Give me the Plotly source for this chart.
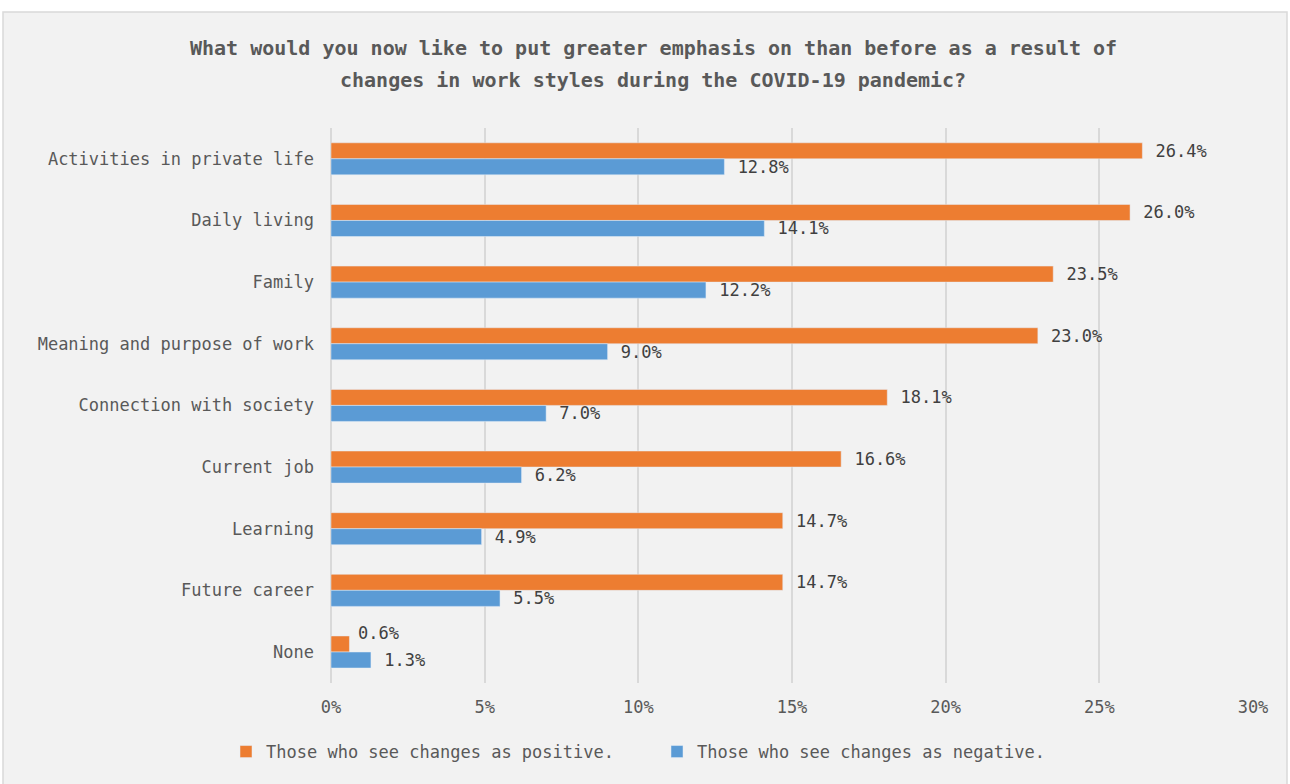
import plotly.graph_objects as go

categories = ["Activities in private life", "Daily living", "Family",
              "Meaning and purpose of work", "Connection with society",
              "Current job", "Learning", "Future career", "None"]
positive = [26.4, 26.0, 23.5, 23.0, 18.1, 16.6, 14.7, 14.7, 0.6]
negative = [12.8, 14.1, 12.2, 9.0, 7.0, 6.2, 4.9, 5.5, 1.3]
series_names = ["Those who see changes as positive.", "Those who see changes as negative."]
x_ticks = [0, 5, 10, 15, 20, 25, 30]
x_tick_labels = ["0%", "5%", "10%", "15%", "20%", "25%", "30%"]
title_lines = ["What would you now like to put greater emphasis on than before as a result of",
               "changes in work styles during the COVID-19 pandemic?"]

FONT = "DejaVu Sans Mono"
W, H = 1290, 784
L, R, T, B = 331, 37, 128, 101
pw, ph = W - L - R, H - T - B
LABEL_FONT = dict(family=FONT, size=17, color="#404040")

# the last orange label is lifted above its bar (as in the reference) to avoid clashing
pos_text = [f" {v:.1f}%" for v in positive]
pos_text[-1] = ""

fig = go.Figure()
fig.add_trace(go.Bar(
    y=categories, x=positive, orientation="h", name=series_names[0],
    marker=dict(color="#ED7D31"),
    text=pos_text, textposition="outside", constraintext="none",
    textfont=LABEL_FONT, cliponaxis=False,
))
fig.add_trace(go.Bar(
    y=categories, x=negative, orientation="h", name=series_names[1],
    marker=dict(color="#5B9BD5"),
    text=[f" {v:.1f}%" for v in negative], textposition="outside",
    constraintext="none", textfont=LABEL_FONT, cliponaxis=False,
))
fig.add_annotation(x=positive[-1], y=categories[-1], xref="x", yref="y",
                   text=f"{positive[-1]:.1f}%", showarrow=False,
                   xanchor="left", yanchor="middle", xshift=7, yshift=19,
                   font=LABEL_FONT)

def px2x(p):
    return (p - L) / pw

def py2y(p):
    return (H - B - p) / ph

fig.add_shape(type="rect", xref="paper", yref="paper", layer="below",
              x0=px2x(3), x1=px2x(1287), y0=py2y(800), y1=py2y(12),
              fillcolor="#F2F2F2", line=dict(color="#D9D9D9", width=1.5))

for i, line in enumerate(title_lines):
    fig.add_annotation(text=f"<b>{line}</b>", xref="paper", yref="paper",
                       x=px2x(653), y=py2y(48 + 32 * i), xanchor="center", yanchor="middle",
                       showarrow=False, font=dict(family=FONT, size=20, color="#595959"))

fig.update_layout(
    width=W, height=H,
    margin=dict(l=L, r=R, t=T, b=B),
    paper_bgcolor="white", plot_bgcolor="rgba(0,0,0,0)",
    barmode="group", bargap=0.48, bargroupgap=0,
    font=dict(family=FONT, size=17, color="#595959"),
    xaxis=dict(range=[0, 30], tickvals=x_ticks, ticktext=x_tick_labels,
               showgrid=True, gridcolor="#D9D9D9", gridwidth=1.5,
               zeroline=True, zerolinecolor="#D9D9D9", zerolinewidth=1.5,
               showline=False, ticks="", ticklabelstandoff=12,
               tickfont=dict(family=FONT, size=17, color="#595959")),
    yaxis=dict(autorange="reversed", showgrid=False, ticks="",
               ticklabelstandoff=16, showline=False,
               tickfont=dict(family=FONT, size=17, color="#595959")),
    legend=dict(orientation="h", x=px2x(226), xanchor="left",
                y=py2y(752), yanchor="middle",
                font=dict(family=FONT, size=17, color="#595959"),
                bgcolor="rgba(0,0,0,0)", itemwidth=30, entrywidth=386),
    showlegend=True,
)

fig.write_html("out.html")
